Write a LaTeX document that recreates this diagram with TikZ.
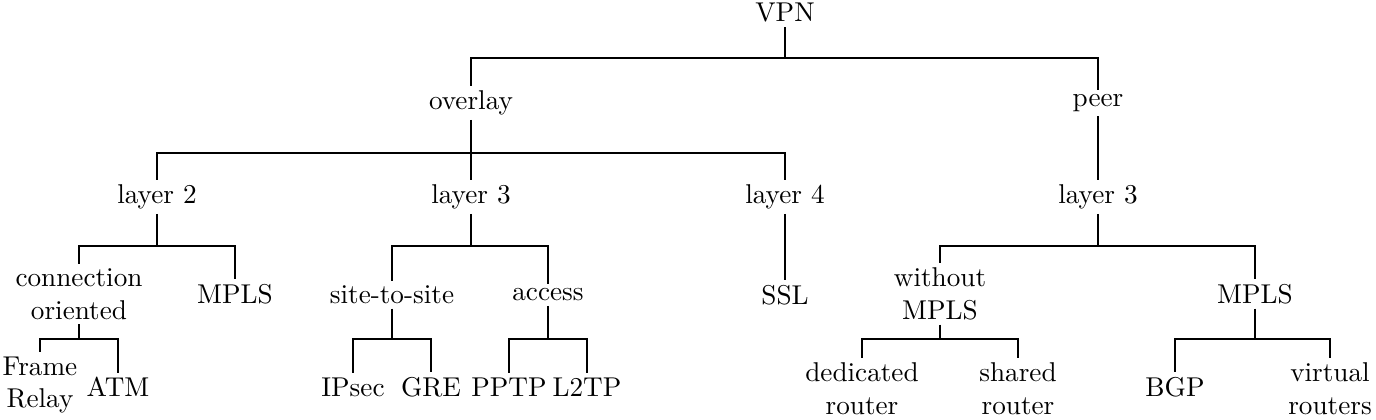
\documentclass[tikz,border=0pt]{standalone}
\begin{document}
\begin{tikzpicture}[x=0.3676pt,y=-0.3676pt,
  lbl/.style={inner sep=1.5pt, align=center},
  conn/.style={line width=0.95pt}]
\useasboundingbox (0,0) rectangle (1376,420);
% nodes
\node[lbl] (vpn) at (785,13) {VPN};
\node[lbl] (ov) at (471,103) {overlay};
\node[lbl] (peer) at (1098,103) {peer};
\node[lbl] (l2) at (157,197) {layer 2};
\node[lbl] (l3) at (471,197) {layer 3};
\node[lbl] (l4) at (785,197) {layer 4};
\node[lbl] (pl3) at (1098,197) {layer 3};
\node[lbl] (co) at (79,294) {connection\\oriented};
\node[lbl] (mplsa) at (235,294) {MPLS};
\node[lbl] (sts) at (392,295) {site-to-site};
\node[lbl] (acc) at (548,295) {access};
\node[lbl] (ssl) at (785,295) {SSL};
\node[lbl] (wo) at (940,294) {without\\MPLS};
\node[lbl] (mplsb) at (1255,294) {MPLS};
\node[lbl] (fr) at (40,385) {Frame\\Relay};
\node[lbl] (atm) at (118,387) {ATM};
\node[lbl] (ipsec) at (353,387) {IPsec};
\node[lbl] (gre) at (431,387) {GRE};
\node[lbl] (pptp) at (509,387) {PPTP};
\node[lbl] (ltp) at (587,387) {L2TP};
\node[lbl] (ded) at (862,389) {dedicated\\router};
\node[lbl] (sh) at (1018,389) {shared\\router};
\node[lbl] (bgp) at (1175,387) {BGP};
\node[lbl] (vr) at (1330,389) {virtual\\routers};
% junction coordinates
\coordinate (jvpn) at (vpn.south |- 0,58);
\coordinate (jov) at (ov.south |- 0,153);
\coordinate (jl2) at (l2.south |- 0,246);
\coordinate (jl3) at (l3.south |- 0,246);
\coordinate (jpl3) at (pl3.south |- 0,246);
\coordinate (jco) at (co.south |- 0,339);
\coordinate (jsts) at (sts.south |- 0,339);
\coordinate (jacc) at (acc.south |- 0,339);
\coordinate (jwo) at (wo.south |- 0,339);
\coordinate (jmplsb) at (mplsb.south |- 0,339);
% connectors
\draw[conn] (vpn.south) -- (jvpn) -| (ov.north);
\draw[conn] (jvpn) -| (peer.north);
\draw[conn] (ov.south) -- (jov) -| (l2.north);
\draw[conn] (jov) -- (l3.north);
\draw[conn] (jov) -| (l4.north);
\draw[conn] (peer.south) -- (pl3.north);
\draw[conn] (l2.south) -- (jl2) -| (co.north);
\draw[conn] (jl2) -| (mplsa.north);
\draw[conn] (l3.south) -- (jl3) -| (sts.north);
\draw[conn] (jl3) -| (acc.north);
\draw[conn] (l4.south) -- (ssl.north);
\draw[conn] (pl3.south) -- (jpl3) -| (wo.north);
\draw[conn] (jpl3) -| (mplsb.north);
\draw[conn] (co.south) -- (jco) -| (fr.north);
\draw[conn] (jco) -| (atm.north);
\draw[conn] (sts.south) -- (jsts) -| (ipsec.north);
\draw[conn] (jsts) -| (gre.north);
\draw[conn] (acc.south) -- (jacc) -| (pptp.north);
\draw[conn] (jacc) -| (ltp.north);
\draw[conn] (wo.south) -- (jwo) -| (ded.north);
\draw[conn] (jwo) -| (sh.north);
\draw[conn] (mplsb.south) -- (jmplsb) -| (bgp.north);
\draw[conn] (jmplsb) -| (vr.north);
\end{tikzpicture}
\end{document}
